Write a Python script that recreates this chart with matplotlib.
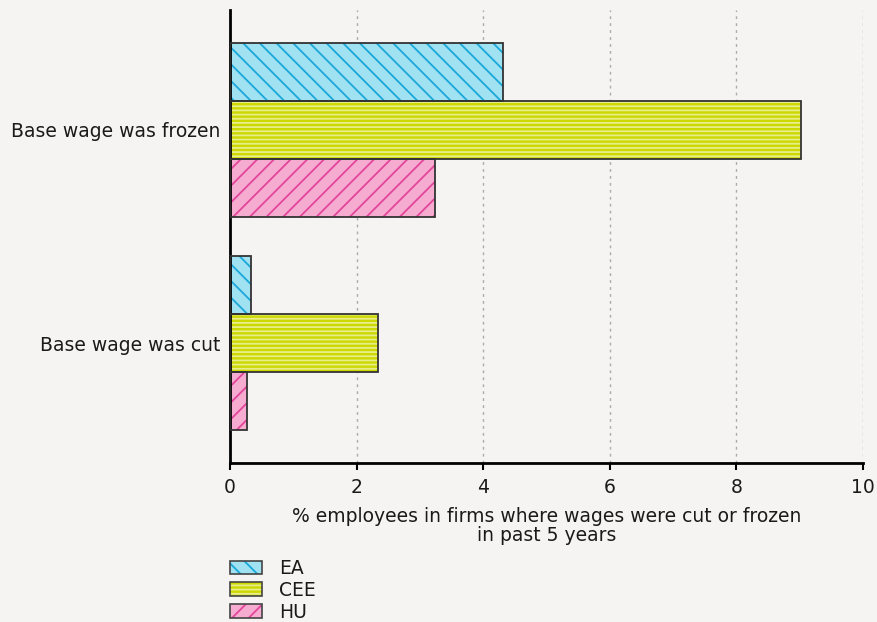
import matplotlib
matplotlib.use("Agg")
import matplotlib.pyplot as plt
import numpy as np
from matplotlib.patches import Patch

categories = ["Base wage was cut", "Base wage was frozen"]
series = ["EA", "CEE", "HU"]
ea = [0.33, 4.31]
cee = [2.34, 9.02]
hu = [0.27, 3.24]
xticks = [0, 2, 4, 6, 8, 10]

plt.rcParams['font.family'] = ['DejaVu Sans']
plt.rcParams['hatch.linewidth'] = 1.3

FS = 13.5
bg = '#f5f4f2'
fig = plt.figure(figsize=(8.77, 6.22), dpi=100, facecolor=bg)
ax = fig.add_axes([230/877, 1-463/622, (863-230)/877, (463-10)/622])
ax.set_facecolor(bg)

styles = [
    dict(fc='#a0e1f2', hc='#1aa8d8', hatch='\\\\'),
    dict(fc='#ccd800', hc='#e8ee8c', hatch='----'),
    dict(fc='#f6abd0', hc='#e2469a', hatch='//'),
]
h = 0.272
y = np.arange(len(categories))
offsets = [h, 0, -h]
handles = []
for vals, st, off, name in zip([ea, cee, hu], styles, offsets, series):
    ax.barh(y + off, vals, height=h, color=st['fc'], edgecolor=st['hc'],
            hatch=st['hatch'], linewidth=0, zorder=2)
    ax.barh(y + off, vals, height=h, fill=False, edgecolor='#333333',
            linewidth=1.3, zorder=3)
    handles.append((Patch(facecolor=st['fc'], edgecolor=st['hc'], hatch=st['hatch'],
                          linewidth=0),
                    Patch(fill=False, edgecolor='#444444', linewidth=1.2)))

ax.set_xlim(0, 10)
ax.set_ylim(-0.563, 1.563)
ax.set_xticks(xticks)
ax.set_xticklabels([str(t) for t in xticks], fontsize=FS)
ax.set_yticks(y)
ax.set_yticklabels(categories, fontsize=FS, color='#1a1a1a')
ax.tick_params(axis='y', length=0, pad=7)
ax.tick_params(axis='x', length=5, width=1.5, pad=6, labelcolor='#1a1a1a')
for s in ['top', 'right']:
    ax.spines[s].set_visible(False)
for s in ['left', 'bottom']:
    ax.spines[s].set_linewidth(2)
    ax.spines[s].set_color('black')
ax.xaxis.grid(True, linestyle=(0, (2, 3)), color='#aaaaaa', linewidth=1, zorder=0)
ax.set_axisbelow(True)
ax.set_xlabel("% employees in firms where wages were cut or frozen\nin past 5 years",
              fontsize=FS, linespacing=1.0, labelpad=7, color='#1a1a1a')

leg = fig.legend(handles, series, loc='upper left',
                 bbox_to_anchor=(230/877, 1-559/622), frameon=False,
                 fontsize=FS, handlelength=1.7, handleheight=0.75,
                 labelspacing=0.15, handletextpad=0.9, borderpad=0, borderaxespad=0)
for t in leg.get_texts():
    t.set_color('#1a1a1a')

fig.savefig('out.png', dpi=100, facecolor=bg)
